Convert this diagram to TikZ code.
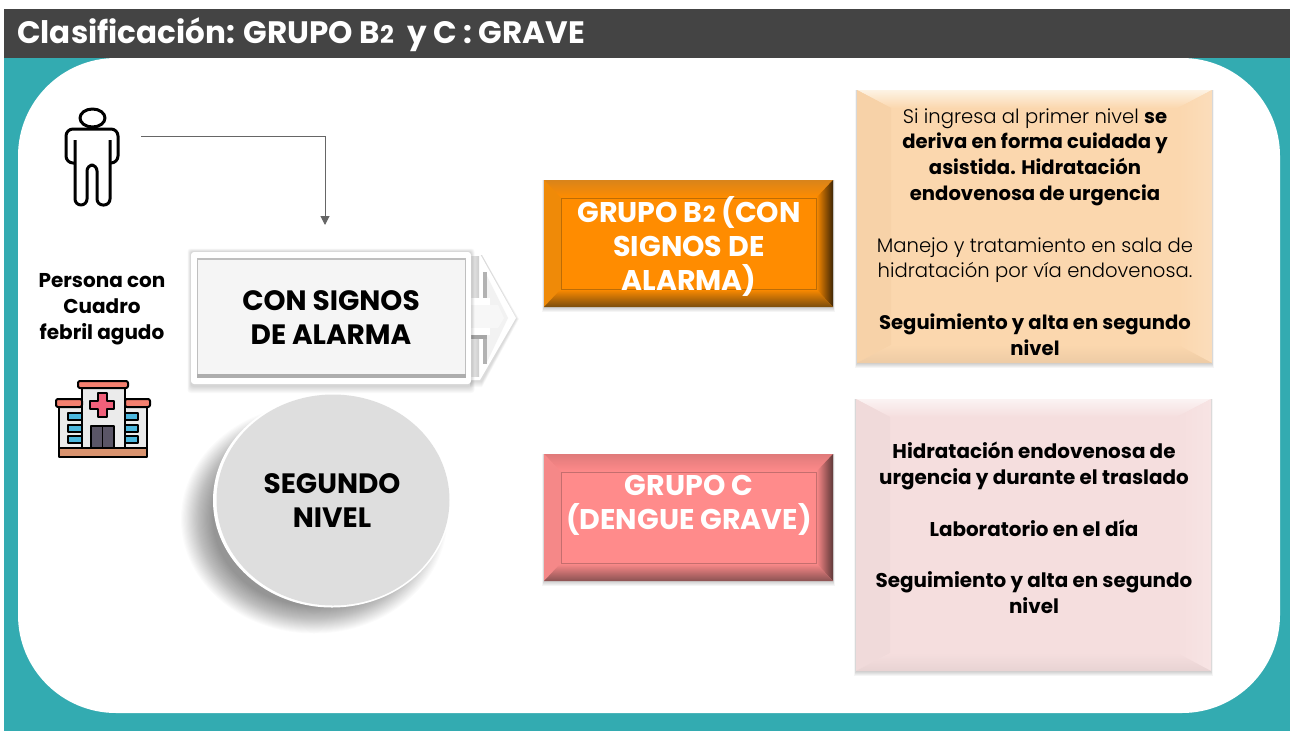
\documentclass[tikz,border=0pt]{standalone}
\usepackage{fontspec}
\setmainfont{Poppins}[BoldFont={Poppins Bold}]
\newfontfamily\ligera{Poppins Light}
\usetikzlibrary{arrows.meta,shapes.geometric}
\definecolor{verdeazul}{HTML}{33ABB1}
\definecolor{barra}{HTML}{444444}
\definecolor{flechagris}{HTML}{666666}
% bevel colours: Cen Sup Izq Der Inf
\definecolor{naranjaCen}{HTML}{FF8C00}\definecolor{naranjaSup}{HTML}{D9841A}\definecolor{naranjaIzq}{HTML}{EF8A08}\definecolor{naranjaDer}{HTML}{3F2605}\definecolor{naranjaInf}{HTML}{7A4C0C}
\definecolor{rosaCen}{HTML}{FF8B8B}\definecolor{rosaSup}{HTML}{E07A7A}\definecolor{rosaIzq}{HTML}{F58888}\definecolor{rosaDer}{HTML}{5E3838}\definecolor{rosaInf}{HTML}{8A5252}
\definecolor{duraznoCen}{HTML}{FBD7AE}\definecolor{duraznoSup}{HTML}{FDF3E4}\definecolor{duraznoIzq}{HTML}{F7D2A8}\definecolor{duraznoDer}{HTML}{FBDDBB}\definecolor{duraznoInf}{HTML}{EDCBA5}
\definecolor{palidoCen}{HTML}{F5DEDE}\definecolor{palidoSup}{HTML}{FBF3F3}\definecolor{palidoIzq}{HTML}{F0DADA}\definecolor{palidoDer}{HTML}{F7E4E4}\definecolor{palidoInf}{HTML}{E8D3D3}
\definecolor{hospitalroof}{HTML}{F4806F}
\definecolor{hospitalbase}{HTML}{D9936F}
\definecolor{hospitalcruz}{HTML}{F0607A}
\definecolor{hospitalvent}{HTML}{4DB8DE}
\definecolor{hospitalpuerta}{HTML}{5A5566}
\tikzset{
  texto/.style={align=center, text=black, inner sep=0pt},
  textocaja/.style={texto, font=\bfseries\fontsize{28}{34}\selectfont},
  textogrupo/.style={texto, text=white, font=\bfseries\fontsize{28.5}{34}\selectfont},
  cuerpo/.style={texto, font=\fontsize{19.6}{25.8}\selectfont},
  negrita/.style={texto, font=\bfseries\fontsize{19.9}{25.8}\selectfont},
  icono/.style={draw=black, line width=2pt, line join=round},
  persona/.style={draw=black, line width=3pt, line join=round},
}
\newcommand{\dos}{\scalebox{0.78}{2}}
\begin{document}
\begin{tikzpicture}[x=1pt, y=-1pt]
    \useasboundingbox (0,0) rectangle (1290,731);

    % Background and title bar
    \fill[verdeazul] (4,58) rectangle (1290,731);
    \fill[white, rounded corners=98pt] (18,58) rectangle (1280,713);
    \fill[barra] (4,9) rectangle (1290,58);
    \node[texto, text=white, anchor=base west, font=\bfseries\fontsize{31}{34}\selectfont] (titulo) at (17,43) {Clasificación: GRUPO B\dos{}\ \ y C : GRAVE};

    % Person icon
    \draw[persona] (92.5,118) ellipse (12.5 and 9);
    \draw[persona, rounded corners=6pt] (75,140) -- (75,205) -- (87,205) -- (87,165) -- (97,165) -- (97,205) -- (110,205) -- (110,140);
    \draw[persona, rounded corners=7pt] (75,163) -- (66,163) -- (66,129) -- (118,129) -- (118,163) -- (110,163);

    % Arrow to the first box
    \coordinate (lineaini) at (141,136);
    \coordinate (lineafin) at (325,225);
    \draw[flechagris, line width=1pt, -{Triangle[length=9pt,width=9pt]}] (lineaini) -| (lineafin);

    \node[texto, font=\bfseries\fontsize{20}{26}\selectfont] (persona) at (102,309) {Persona con\\Cuadro\\febril agudo};

    % Hospital icon
    \draw[icono, fill=black!8] (59,407) rectangle (147,448);
    \draw[icono, fill=black!8] (82,388) rectangle (125,448);
    \draw[icono, fill=hospitalroof, rounded corners=2pt] (56,399) rectangle (82,407);
    \draw[icono, fill=hospitalroof, rounded corners=2pt] (125,399) rectangle (150,407);
    \draw[icono, fill=hospitalroof, rounded corners=2pt] (78,381) rectangle (128,388);
    \draw[icono, fill=hospitalbase] (59,448) rectangle (147,457);
    \draw[icono, fill=hospitalpuerta] (91,426) rectangle (114,448);
    \draw[icono, line width=1pt] (102.5,426) -- (102.5,448);
    \foreach \ya in {413,425,436}{
        \draw[icono, line width=1.4pt, fill=hospitalvent] (68,\ya) rectangle (82,\ya+7);
        \draw[icono, line width=1.4pt, fill=hospitalvent] (125,\ya) rectangle (138,\ya+7);
    }
    \draw[icono, fill=hospitalcruz] (98,393) -- (107,393) -- (107,401) -- (114,401) -- (114,409) -- (107,409) -- (107,417) -- (98,417) -- (98,409) -- (90,409) -- (90,401) -- (98,401) -- cycle;

    % Block arrow behind the white box
    \foreach \i in {1,...,6}
        \fill[black, opacity=0.025] (470,255) -- (482,255) -- (516+\i/2,319) -- (482,381+\i) -- (470,381+\i) -- cycle;
    \fill[white] (463,254) -- (480,254) -- (516,318) -- (480,380) -- (463,380) -- cycle;
    \fill[black!5] (486,274) -- (508,318) -- (486,364) -- cycle;
    \shade[left color=black!6, right color=black!20] (470,256) rectangle (479,298);
    \shade[left color=black!6, right color=black!20] (470,339) rectangle (479,376);
    \fill[black!30] (483,272) rectangle (487,298);
    \fill[black!30] (483,339) rectangle (487,364);
    \fill[white] (463,298) rectangle (490,306);
    \fill[black!3] (462,305) -- (498,305) -- (504,318) -- (498,328) -- (462,328) -- cycle;
    \fill[white] (463,328) rectangle (490,335);
    \fill[black!35] (466,335) rectangle (487,338.5);

    % White box
    \foreach \i in {1,...,7}
        \fill[black, opacity=0.022, rounded corners=3pt] (191-\i/2,252-\i/2) rectangle (471+\i/2,386+\i);
    \fill[white, rounded corners=3pt] (191,252) rectangle (471,384);
    \fill[black!25] (197,258) rectangle (466,378);
    \fill[black!4] (198,260) rectangle (465,374);
    \fill[black!32] (197,374) rectangle (466,378);
    \node[textocaja] (signos) at (331,318) {CON SIGNOS\\DE ALARMA};

    % Circle
    \foreach \i in {1,...,30}
        \fill[black, opacity=0.016] (314,519) ellipse ({100+\i*1.1} and {86+\i*0.95});
    \fill[white] (332,500.5) ellipse (119 and 107);
    \fill[black!13] (333,500) ellipse (116.5 and 105.5);
    \node[textocaja] (nivel) at (332,501) {SEGUNDO\\NIVEL};

    % Bevelled boxes
    \foreach \nom/\xa/\ya/\xb/\yb/\bis in {naranja/544/180/833/307/17, rosa/544/454/833/581/17, durazno/857/90/1212/363/34, palido/856/399/1211/671/34}{
        \foreach \i in {1,...,5}
            \fill[black, opacity=0.04] (\xa-\i/3,\ya) rectangle (\xb+\i/3,\yb+\i);
        \fill[\nom Cen] (\xa,\ya) rectangle (\xb,\yb);
        \shade[top color=\nom Sup, bottom color=\nom Cen] (\xa,\ya) -- (\xb,\ya) -- (\xb-\bis,\ya+18) -- (\xa+\bis,\ya+18) -- cycle;
        \fill[\nom Izq] (\xa,\ya) -- (\xa+\bis,\ya+18) -- (\xa+\bis,\yb-18) -- (\xa,\yb) -- cycle;
        \shade[right color=\nom Der, left color=\nom Cen] (\xb,\ya) -- (\xb-\bis,\ya+18) -- (\xb-\bis,\yb-18) -- (\xb,\yb) -- cycle;
        \shade[bottom color=\nom Inf, top color=\nom Cen] (\xa,\yb) -- (\xa+\bis,\yb-18) -- (\xb-\bis,\yb-18) -- (\xb,\yb) -- cycle;
    }
    \draw[naranjaInf!50!naranjaCen, line width=0.6pt] (561,198) rectangle (816,289);
    \draw[rosaInf!50!rosaCen, line width=0.6pt] (561,472) rectangle (816,563);

    \node[textogrupo] (grupob) at (689,246) {GRUPO B\dos{} (CON\\SIGNOS DE\\ALARMA)};
    \node[textogrupo] (grupoc) at (689,505) {GRUPO C\\(DENGUE GRAVE)};

    \node[cuerpo] (texb) at (1035,232) {{\ligera Si ingresa al primer nivel} \textbf{se}\\\textbf{deriva en forma cuidada y}\\\textbf{asistida. Hidratación}\\\textbf{endovenosa de urgencia}\\[25.8pt]{\ligera Manejo y tratamiento en sala de}\\{\ligera hidratación por vía endovenosa.}\\[25.8pt]\textbf{Seguimiento y alta en segundo}\\\textbf{nivel}};
    \node[negrita] (texc) at (1034,528) {Hidratación endovenosa de\\urgencia y durante el traslado\\[25.8pt]Laboratorio en el día\\[25.8pt]Seguimiento y alta en segundo\\nivel};
\end{tikzpicture}
\end{document}
